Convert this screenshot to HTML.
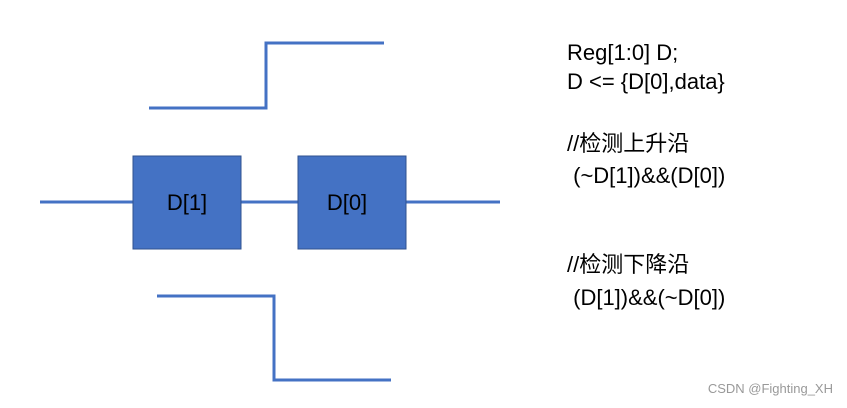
<!DOCTYPE html>
<html><head><meta charset="utf-8"><style>
html,body{margin:0;padding:0;background:#fff;}
</style></head><body>
<svg width="847" height="408" xmlns="http://www.w3.org/2000/svg" style="display:block">
<g stroke="#4472C4" stroke-width="3" fill="none">
<line x1="40" y1="202" x2="500" y2="202"/>
<polyline points="149,108 266,108 266,43 384,43"/>
<polyline points="157,296 274,296 274,380 391,380"/>
</g>
<rect x="133" y="156" width="108" height="93" fill="#4472C4" stroke="#2F528F" stroke-width="1"/>
<rect x="298" y="156" width="108" height="93" fill="#4472C4" stroke="#2F528F" stroke-width="1"/>
<g font-family="Liberation Sans, 'Noto Sans CJK SC', sans-serif" font-size="22" fill="#000">
<text x="187" y="210" text-anchor="middle">D[1]</text>
<text x="347" y="210" text-anchor="middle">D[0]</text>
<text x="567" y="60">Reg[1:0] D;</text>
<text x="567" y="89">D &lt;= {D[0],data}</text>
<text x="567" y="151">//检测上升沿</text>
<text x="567" y="183" xml:space="preserve"> (~D[1])&amp;&amp;(D[0])</text>
<text x="567" y="272">//检测下降沿</text>
<text x="567" y="305" xml:space="preserve"> (D[1])&amp;&amp;(~D[0])</text>
</g>
<text x="833" y="393" text-anchor="end" font-family="Liberation Sans, sans-serif" font-size="13" fill="#999">CSDN @Fighting_XH</text>
</svg>
</body></html>
